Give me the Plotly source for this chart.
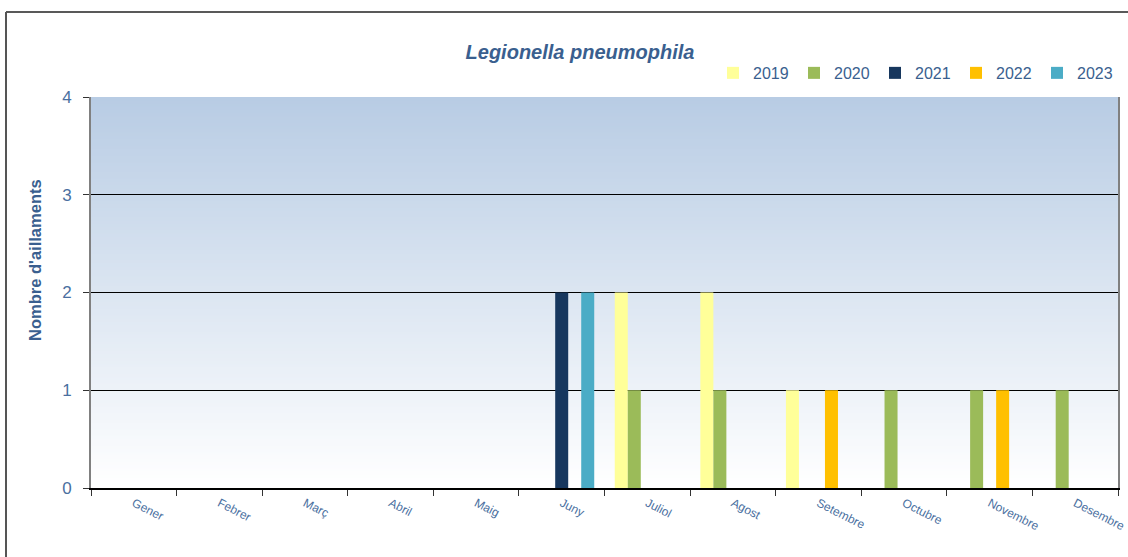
import plotly.graph_objects as go

months = ["Gener", "Febrer", "Març", "Abril", "Maig", "Juny", "Juliol",
          "Agost", "Setembre", "Octubre", "Novembre", "Desembre"]
v2019 = [0, 0, 0, 0, 0, 0, 2, 2, 1, 0, 0, 0]
v2020 = [0, 0, 0, 0, 0, 0, 1, 1, 0, 1, 1, 1]
v2021 = [0, 0, 0, 0, 0, 2, 0, 0, 0, 0, 0, 0]
v2022 = [0, 0, 0, 0, 0, 0, 0, 0, 1, 0, 1, 0]
v2023 = [0, 0, 0, 0, 0, 2, 0, 0, 0, 0, 0, 0]
years = ["2019", "2020", "2021", "2022", "2023"]
colors = ["#FFFF99", "#9BBB59", "#17375E", "#FFC000", "#4BACC6"]
series = [v2019, v2020, v2021, v2022, v2023]
y_ticks = [0, 1, 2, 3, 4]

W, H = 1128, 557
L, R, T, B = 91, 10, 97, 69
pw = W - L - R
ph = H - T - B

fig = go.Figure()
for name, vals, col in zip(years, series, colors):
    fig.add_trace(go.Bar(x=months, y=vals, name=name, marker_color=col,
                         marker_line_width=0))

# vertical gradient background (top blue to bottom white)
shapes = []
n = 120
top = (184, 204, 228)
bot = (255, 255, 255)
for i in range(n):
    t = i / (n - 1)
    c = tuple(round(bot[k] + (top[k] - bot[k]) * t) for k in range(3))
    shapes.append(dict(type="rect", xref="paper", yref="paper",
                       x0=0, x1=1, y0=i / n, y1=min(1, (i + 2) / n),
                       fillcolor="rgb(%d,%d,%d)" % c, line_width=0,
                       layer="below"))
# outer frame (top and left border)
shapes.append(dict(type="line", xref="paper", yref="paper",
                   x0=(6 - L) / pw, x1=(W - L) / pw, y0=(H - 12 - B) / ph, y1=(H - 12 - B) / ph,
                   line=dict(color="#222222", width=1.5)))
shapes.append(dict(type="line", xref="paper", yref="paper",
                   x0=(6 - L) / pw, x1=(6 - L) / pw, y0=-B / ph, y1=(H - 12 - B) / ph,
                   line=dict(color="#555555", width=2)))

fig.update_layout(
    width=W, height=H,
    margin=dict(l=L, r=R, t=T, b=B, autoexpand=False),
    paper_bgcolor="white", plot_bgcolor="rgba(0,0,0,0)",
    barmode="group", bargap=0.24, bargroupgap=0,
    font=dict(family="Liberation Sans, Arial, sans-serif", color="#4A6FA0"),
    title=dict(text="<b><i>Legionella pneumophila</i></b>", x=580 / W, xanchor="center",
               y=1 - 52 / H, yanchor="middle",
               font=dict(size=20, color="#3A5F8F")),
    legend=dict(orientation="h", x=(1118 - L) / pw, xanchor="right", y=1.018, yanchor="bottom",
                font=dict(size=16, color="#3A5F8F"), bgcolor="rgba(0,0,0,0)",
                itemwidth=30, entrywidth=36, traceorder="normal"),
    showlegend=True,
    shapes=shapes,
    annotations=[dict(text="<b>Nombre d'aillaments</b>", textangle=-90,
                      xref="paper", yref="paper", x=(35 - L) / pw, y=(488 - 260) / ph,
                      xanchor="center", yanchor="middle", showarrow=False,
                      font=dict(size=16.5, color="#3A5F8F"))],
)
fig.update_xaxes(type="category", tickson="boundaries", ticks="outside", ticklen=6,
                 tickcolor="#333333", tickangle=27, ticklabelstandoff=2,
                 tickfont=dict(size=12, color="#4A6FA0"),
                 showline=True, linecolor="black", linewidth=1.5,
                 showgrid=False, range=[-0.5, 11.5])
fig.update_yaxes(range=[0, 4], tickvals=y_ticks, ticks="outside", ticklen=6,
                 tickcolor="#333333", tickfont=dict(size=17, color="#4A6FA0"),
                 showgrid=True, gridcolor="black", gridwidth=1,
                 showline=True, linecolor="#808080", linewidth=2, mirror=True,
                 zeroline=False, ticklabelstandoff=8)
fig.write_html("out.html", config={"displayModeBar": False},
               post_script="document.body.style.margin='0';")
